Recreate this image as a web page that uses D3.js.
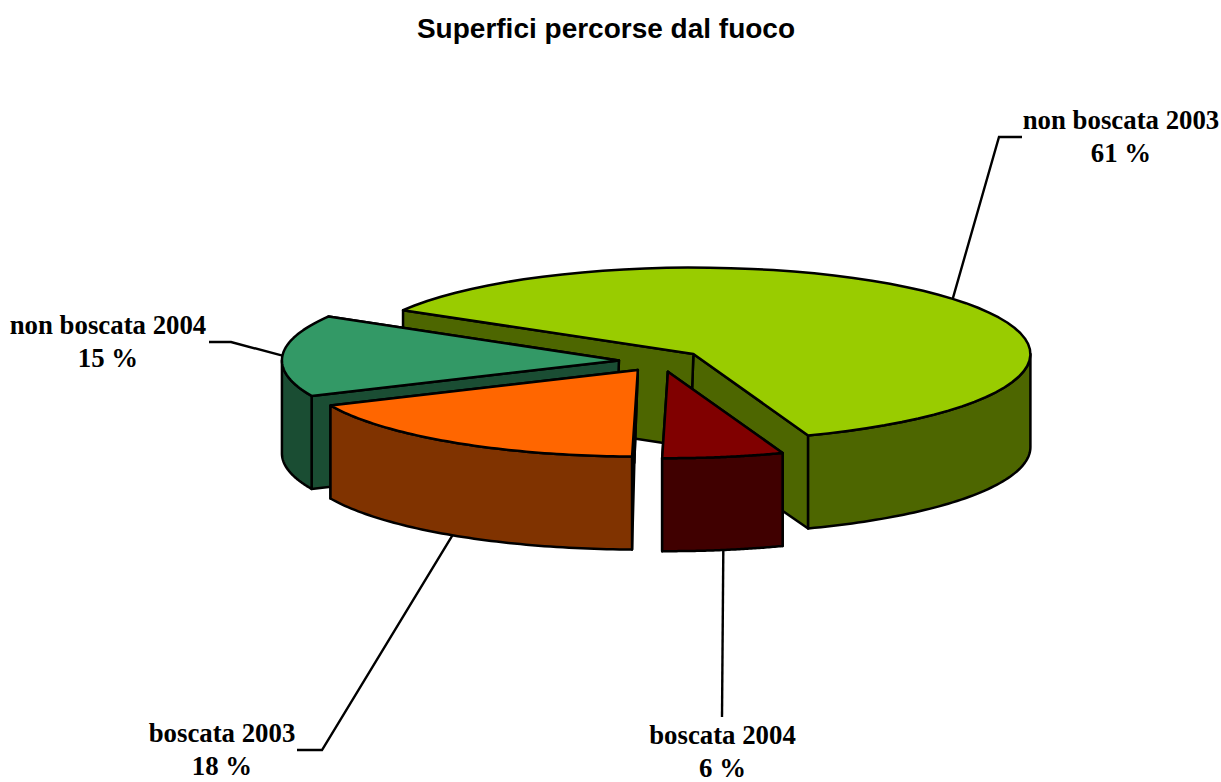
<!DOCTYPE html>
<html><head><meta charset="utf-8">
<script src="https://cdn.jsdelivr.net/npm/d3@7/dist/d3.min.js"></script>
<style>html,body{margin:0;padding:0;background:#fff}svg{display:block}</style>
</head><body><svg id="c" width="1221" height="782"></svg>
<script>
const categories = ["non boscata 2003","boscata 2004","boscata 2003","non boscata 2004"];
const values = [61,5.8,18,15.2];
const topColors = ["#99CC00","#800000","#FF6600","#339966"];
const sideColors = ["#4D6600","#400000","#803300","#1A4D33"];
const drawOrder = [0,3,2,1];
const title = "Superfici percorse dal fuoco";

const W=1221,H=782, cx=661, cy=361, rx=337, ry=86.5, depth=93, explode=0.125, apexLean=-3.5;
const startDeg=-59.5;
const svg=d3.select("#c");
const pie=d3.pie().sort(null).value(d=>d).startAngle(startDeg*Math.PI/180).endAngle((startDeg+360)*Math.PI/180);
const arcs=pie(values);
const sx=d3.scaleLinear().domain([-1,1]).range([cx-rx,cx+rx]);
const sy=d3.scaleLinear().domain([-1,1]).range([cy-ry,cy+ry]);
const proj=(a,r,o,dz=0)=>[sx(o[0]+r*Math.sin(a)),sy(o[1]-r*Math.cos(a))+dz];
const slices=arcs.map((d,i)=>{const m=(d.startAngle+d.endAngle)/2;
  return {d,i,m,o:[explode*Math.sin(m),-explode*Math.cos(m)]};});
const line=d3.line();
const samples=(a,b)=>d3.range(0,61).map(k=>a+(b-a)*k/60);

function drawSlice(s){
  const g=svg.append("g").attr("stroke","#000").attr("stroke-width",2.5).attr("stroke-linejoin","round");
  const {d,o,i}=s, a=d.startAngle,b=d.endAngle;
  const wall=t=>{const low=proj(t,0,o,depth);
    return [proj(t,0,o),proj(t,1,o),proj(t,1,o,depth),[low[0]+apexLean,low[1]]];};
  g.append("path").attr("d",line(wall(b))+"Z").attr("fill",sideColors[i]);
  g.append("path").attr("d",line(wall(a))+"Z").attr("fill",sideColors[i]);
  const lo=Math.max(a,Math.PI/2), hi=Math.min(b,Math.PI*1.5);
  if(hi>lo){
    const ang=samples(lo,hi);
    const pts=ang.map(t=>proj(t,1,o)).concat(ang.slice().reverse().map(t=>proj(t,1,o,depth)));
    g.append("path").attr("d",line(pts)+"Z").attr("fill",sideColors[i]);
  }
  const topPts=[proj(a,0,o)].concat(samples(a,b).map(t=>proj(t,1,o)));
  g.append("path").attr("d",line(topPts)+"Z").attr("fill",topColors[i]);
}
drawOrder.forEach(i=>drawSlice(slices[i]));

const leaderDrop=[0,depth,depth,0];
const leaderBend=[[999,137],[722,717],[322,750],[231,342]];
const leaderEnd=[[1022,137],[722,717],[297,750],[209,342]];
const labelPos=[[1121,129],[722.5,744],[222,742],[108,334]];
const lineGap=32.5;
slices.forEach(s=>{
  const start=proj(s.m,1,s.o,leaderDrop[s.i]);
  svg.append("path").attr("d",line([start,leaderBend[s.i],leaderEnd[s.i]]))
    .attr("fill","none").attr("stroke","#000").attr("stroke-width",2.4);
  const t=svg.append("text").attr("text-anchor","middle")
    .attr("font-family","'Liberation Serif',serif").attr("font-weight","bold").attr("font-size",26.8).attr("fill","#000");
  t.append("tspan").attr("x",labelPos[s.i][0]).attr("y",labelPos[s.i][1]).text(categories[s.i]);
  t.append("tspan").attr("x",labelPos[s.i][0]).attr("y",labelPos[s.i][1]+lineGap).text(Math.round(values[s.i])+" %");
});
svg.append("text").attr("x",606).attr("y",38).attr("text-anchor","middle")
  .attr("font-family","'Liberation Sans',sans-serif").attr("font-weight","bold").attr("font-size",28).text(title);
</script></body></html>
